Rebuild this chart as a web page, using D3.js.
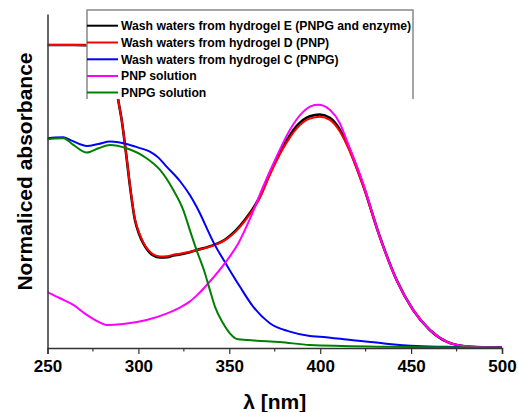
<!DOCTYPE html>
<html>
<head>
<meta charset="utf-8">
<script src="https://cdn.jsdelivr.net/npm/d3@7"></script>
<style>
  body { margin: 0; background: #fff; }
  text { font-family: "Liberation Sans", Arial, sans-serif; font-weight: bold; }
</style>
</head>
<body>
<div id="chart"></div>
<script>
// Define SVG area dimensions
var svgWidth = 518;
var svgHeight = 412;

var margin = { top: 14, right: 16, bottom: 64, left: 47.5 };
var chartWidth = svgWidth - margin.left - margin.right;
var chartHeight = svgHeight - margin.top - margin.bottom;

// Wavelength ticks
var majorTicks = [250, 300, 350, 400, 450, 500];
var minorTicks = [275, 325, 375, 425, 475];

// Wash waters from hydrogel E (PNPG and enzyme)
var eNm  = [250, 265, 278, 282, 285, 287, 288.8, 290.8, 293.2, 295.4, 298.1, 300.5, 302.7, 305.5, 308.2, 311.9, 316, 319.2, 322.8, 328.3, 332, 341.2, 348.5, 358.5, 366.8, 372.3, 379.6, 387, 394.3, 399.8, 405.3, 410.8, 414.5, 423.6, 432.8, 442, 451.1, 460.3, 469.5, 478.6, 489.4, 500];
var eAbs = [0.907, 0.907, 0.906, 0.895, 0.865, 0.81, 0.746, 0.683, 0.583, 0.483, 0.383, 0.34, 0.313, 0.29, 0.277, 0.271, 0.272, 0.277, 0.28, 0.287, 0.293, 0.308, 0.328, 0.383, 0.453, 0.523, 0.603, 0.664, 0.694, 0.699, 0.689, 0.654, 0.615, 0.488, 0.333, 0.204, 0.114, 0.054, 0.019, 0.006, 0.002, 0.001];

// Wash waters from hydrogel D (PNP)
var dNm  = [250, 265, 278, 282, 285, 287, 288.8, 290.8, 293.2, 295.4, 298.1, 300.5, 302.7, 305.5, 308.2, 311.9, 316, 319.2, 322.8, 328.3, 332, 341.2, 348.5, 358.5, 366.8, 372.3, 379.6, 387, 394.3, 399.8, 405.3, 410.8, 414.5, 423.6, 432.8, 442, 451.1, 460.3, 469.5, 478.6, 489.4, 500];
var dAbs = [0.907, 0.907, 0.906, 0.895, 0.865, 0.81, 0.746, 0.683, 0.585, 0.486, 0.386, 0.343, 0.316, 0.293, 0.28, 0.274, 0.275, 0.279, 0.282, 0.288, 0.293, 0.307, 0.326, 0.38, 0.449, 0.518, 0.597, 0.657, 0.687, 0.692, 0.683, 0.648, 0.61, 0.485, 0.332, 0.204, 0.114, 0.054, 0.019, 0.006, 0.002, 0.001];

// Wash waters from hydrogel C (PNPG)
var cNm  = [250, 254, 258.7, 262.4, 267, 271.6, 278, 284.4, 289, 293.5, 300, 306.3, 311, 315.5, 322.8, 328.3, 332, 342.1, 348.5, 355.8, 363.1, 372.3, 383.3, 394.3, 399.8, 417, 434.4, 453, 475, 500];
var cAbs = [0.628, 0.630, 0.631, 0.623, 0.612, 0.605, 0.611, 0.618, 0.616, 0.611, 0.600, 0.588, 0.570, 0.543, 0.50, 0.458, 0.423, 0.308, 0.249, 0.184, 0.124, 0.074, 0.049, 0.036, 0.034, 0.024, 0.014, 0.006, 0.003, 0.001];

// PNP solution
var pnpNm  = [250, 256.9, 264.2, 271.6, 278.9, 282.5, 291.7, 304.5, 315.5, 322.8, 328, 333, 339.3, 347.6, 354.9, 362, 368.6, 376, 383.3, 390.6, 395, 398.9, 402, 405.3, 410.8, 414.5, 423.6, 432.8, 442, 451.1, 460.3, 469.5, 478.6, 489.4, 500];
var pnpAbs = [0.167, 0.149, 0.129, 0.099, 0.076, 0.069, 0.072, 0.084, 0.103, 0.121, 0.138, 0.162, 0.199, 0.254, 0.313, 0.395, 0.483, 0.573, 0.653, 0.707, 0.724, 0.728, 0.725, 0.713, 0.673, 0.623, 0.493, 0.333, 0.204, 0.114, 0.054, 0.019, 0.006, 0.002, 0.001];

// PNPG solution
var pnpgNm  = [250, 254, 258.7, 264.2, 271.6, 278, 284.4, 293.5, 304.5, 311.9, 319.2, 324.7, 328.3, 332, 336.6, 339.3, 342.1, 346.6, 350.3, 354.9, 365, 377.8, 394.3, 434.4, 470, 500];
var pnpgAbs = [0.625, 0.627, 0.628, 0.608, 0.585, 0.598, 0.608, 0.598, 0.568, 0.533, 0.473, 0.413, 0.353, 0.293, 0.224, 0.174, 0.124, 0.074, 0.044, 0.026, 0.022, 0.018, 0.009, 0.004, 0.002, 0.001];

var seriesNames = [
  "Wash waters from hydrogel E (PNPG and enzyme)",
  "Wash waters from hydrogel D (PNP)",
  "Wash waters from hydrogel C (PNPG)",
  "PNP solution",
  "PNPG solution"
];
var seriesColors = ["#000000", "#ff0000", "#0000ff", "#ff00ff", "#008000"];
var seriesWidths = [2.6, 2, 2, 2, 2];
var seriesX = [eNm, dNm, cNm, pnpNm, pnpgNm];
var seriesY = [eAbs, dAbs, cAbs, pnpAbs, pnpgAbs];

var svg = d3.select("#chart")
  .append("svg")
  .attr("width", svgWidth)
  .attr("height", svgHeight);

var chartGroup = svg.append("g")
  .attr("transform", `translate(${margin.left}, ${margin.top})`);

var xScale = d3.scaleLinear().domain([250, 500]).range([0, chartWidth]);
var yScale = d3.scaleLinear().domain([0, 1]).range([chartHeight, 0]);

// clip the curves to the plot area
svg.append("defs").append("clipPath")
  .attr("id", "plot-clip")
  .append("rect")
  .attr("x", 0).attr("y", 0)
  .attr("width", chartWidth).attr("height", chartHeight);

var line = d3.line()
  .x(d => xScale(d[0]))
  .y(d => yScale(d[1]))
  .curve(d3.curveMonotoneX);

var curves = chartGroup.append("g").attr("clip-path", "url(#plot-clip)");
seriesX.forEach((xs, i) => {
  var pts = xs.map((x, j) => [x, seriesY[i][j]]);
  curves.append("path")
    .datum(pts)
    .attr("fill", "none")
    .attr("stroke", seriesColors[i])
    .attr("stroke-width", seriesWidths[i])
    .attr("stroke-linejoin", "round")
    .attr("d", line);
});

// bottom axis with major and minor ticks
var xAxis = chartGroup.append("g")
  .attr("transform", `translate(0, ${chartHeight})`)
  .call(d3.axisBottom(xScale).tickValues(majorTicks).tickSize(6).tickPadding(6));
xAxis.select(".domain").attr("stroke", "#333").attr("stroke-width", 1.5);
xAxis.selectAll(".tick line").attr("stroke", "#333").attr("stroke-width", 1.2);
xAxis.selectAll(".tick text")
  .attr("fill", "#000")
  .style("font-size", "17px")
  .style("font-weight", "bold");

chartGroup.append("g")
  .selectAll("line")
  .data(minorTicks)
  .enter()
  .append("line")
  .attr("x1", d => xScale(d)).attr("x2", d => xScale(d))
  .attr("y1", chartHeight).attr("y2", chartHeight + 3.5)
  .attr("stroke", "#333")
  .attr("stroke-width", 1.2);

// left axis, line only
var yAxis = chartGroup.append("g")
  .call(d3.axisLeft(yScale).tickValues([]).tickSizeOuter(0));
yAxis.select(".domain").attr("stroke", "#333").attr("stroke-width", 1.5);

// axis titles
svg.append("text")
  .attr("x", margin.left + chartWidth / 2)
  .attr("y", 409)
  .attr("text-anchor", "middle")
  .style("font-size", "21px")
  .text("λ [nm]");

svg.append("text")
  .attr("transform", "translate(32, 171.5) rotate(-90)")
  .attr("text-anchor", "middle")
  .style("font-size", "21px")
  .text("Normaliced absorbance");

// legend box (white background covers the curves)
var legend = svg.append("g");
legend.append("rect")
  .attr("x", 87).attr("y", 10)
  .attr("width", 326).attr("height", 89)
  .attr("fill", "#fff");
legend.append("path")
  .attr("d", "M87,99 L87,10 L413,10 L413,99")
  .attr("fill", "none")
  .attr("stroke", "#888")
  .attr("stroke-width", 1.5);

var rowY = [25.7, 42.5, 59.3, 76, 92.5];
seriesNames.forEach((name, i) => {
  legend.append("line")
    .attr("x1", 87).attr("x2", 118)
    .attr("y1", rowY[i]).attr("y2", rowY[i])
    .attr("stroke", seriesColors[i])
    .attr("stroke-width", 2);
  legend.append("text")
    .attr("x", 121)
    .attr("y", rowY[i] + 4.3)
    .style("font-size", "12.2px")
    .text(name);
});
</script>
</body>
</html>
